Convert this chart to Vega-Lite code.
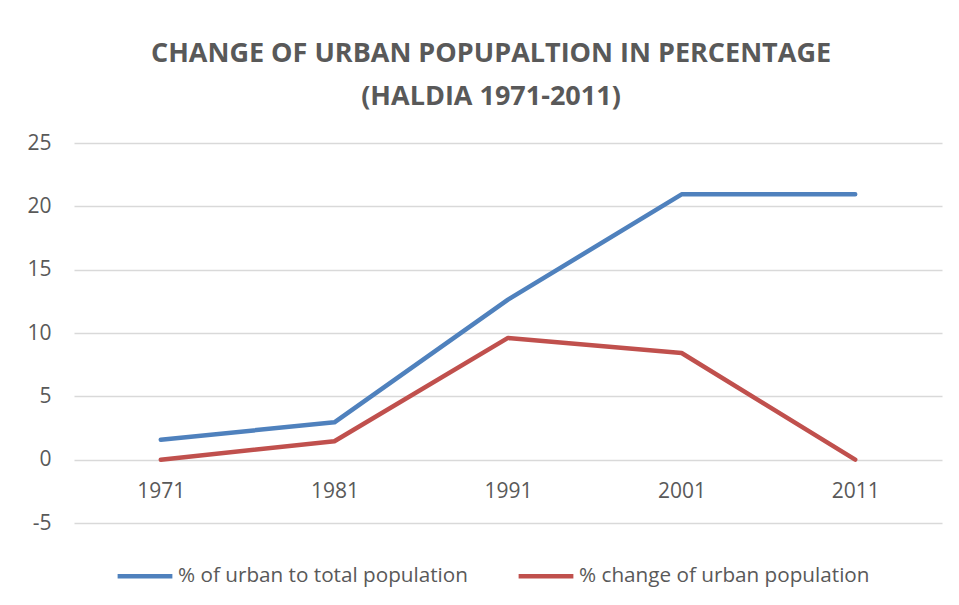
{
  "$schema": "https://vega.github.io/schema/vega-lite/v6.json",
  "width": 868,
  "height": 380,
  "autosize": {"type": "none"},
  "padding": {"left": 74, "top": 143, "right": 17, "bottom": 82},
  "background": "white",
  "title": {
    "text": ["CHANGE OF URBAN POPUPALTION IN PERCENTAGE", "(HALDIA 1971-2011)"],
    "font": "Open Sans",
    "fontSize": 27,
    "fontWeight": "bold",
    "color": "#595959",
    "lineHeight": 43,
    "anchor": "middle",
    "frame": "group",
    "dx": -17,
    "offset": 21
  },
  "data": {
    "values": [
      {"year": "1971", "series": "% of urban to total population", "value": 1.58},
      {"year": "1981", "series": "% of urban to total population", "value": 2.95},
      {"year": "1991", "series": "% of urban to total population", "value": 12.63},
      {"year": "2001", "series": "% of urban to total population", "value": 20.95},
      {"year": "2011", "series": "% of urban to total population", "value": 20.95},
      {"year": "1971", "series": "% change of urban population", "value": 0},
      {"year": "1981", "series": "% change of urban population", "value": 1.45},
      {"year": "1991", "series": "% change of urban population", "value": 9.61},
      {"year": "2001", "series": "% change of urban population", "value": 8.42},
      {"year": "2011", "series": "% change of urban population", "value": 0}
    ]
  },
  "mark": {"type": "line", "strokeWidth": 4.5, "strokeCap": "round", "strokeJoin": "round"},
  "encoding": {
    "x": {
      "field": "year",
      "type": "ordinal",
      "axis": {
        "title": null,
        "labelAngle": 0,
        "domain": false,
        "ticks": false,
        "grid": false,
        "offset": -63.33,
        "labelPadding": 21,
        "labelFont": "Open Sans",
        "labelFontSize": 21,
        "labelColor": "#595959"
      }
    },
    "y": {
      "field": "value",
      "type": "quantitative",
      "scale": {"domain": [-5, 25], "nice": false, "zero": false},
      "axis": {
        "title": null,
        "values": [-5, 0, 5, 10, 15, 20, 25],
        "labelExpr": "datum.value < 0 ? '-' + abs(datum.value) : datum.label",
        "domain": false,
        "ticks": false,
        "grid": true,
        "gridColor": "#d9d9d9",
        "gridWidth": 1.3,
        "labelPadding": 23,
        "labelFont": "Open Sans",
        "labelFontSize": 21,
        "labelColor": "#595959"
      }
    },
    "color": {
      "field": "series",
      "type": "nominal",
      "sort": ["% of urban to total population", "% change of urban population"],
      "scale": {
        "domain": ["% of urban to total population", "% change of urban population"],
        "range": ["#4F81BD", "#C0504D"]
      },
      "legend": {
        "title": null,
        "orient": "none",
        "direction": "horizontal",
        "legendX": 41,
        "legendY": 403,
        "symbolType": "stroke",
        "symbolStrokeWidth": 4.5,
        "symbolSize": 3000,
        "labelFont": "Open Sans",
        "labelFontSize": 20.7,
        "labelLimit": 0,
        "labelColor": "#595959",
        "labelOffset": 3,
        "columnPadding": 41,
        "padding": 0
      }
    }
  },
  "config": {"view": {"stroke": null}}
}
